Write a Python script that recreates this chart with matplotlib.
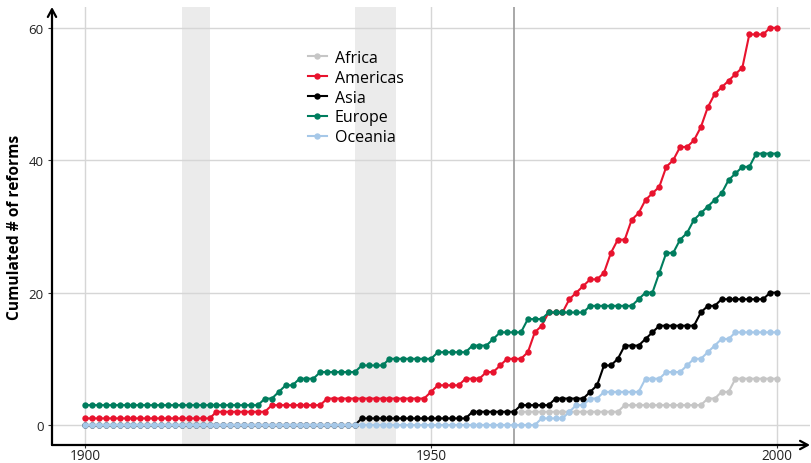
import numpy as np
import matplotlib.pyplot as plt
from matplotlib.lines import Line2D

plt.rcParams['font.family'] = ['Open Sans', 'DejaVu Sans']

# Cumulated number of reforms per year, by region
years = np.arange(1900, 2001)

africa_years = np.arange(1963, 2001)
africa = ([2] * 15 + [3] * 12 + [4, 4, 5, 5] + [7] * 7)

americas = ([1] * 10 +
            [1, 1, 1, 1, 1, 1, 1, 1, 1, 2] +
            [2, 2, 2, 2, 2, 2, 2, 3, 3, 3] +
            [3, 3, 3, 3, 3, 4, 4, 4, 4, 4] +
            [4] * 10 +
            [5, 6, 6, 6, 6, 7, 7, 7, 8, 8] +
            [9, 10, 10, 10, 11, 14, 15, 17, 17, 17] +
            [19, 20, 21, 22, 22, 23, 26, 28, 28, 31] +
            [32, 34, 35, 36, 39, 40, 42, 42, 43, 45] +
            [48, 50, 51, 52, 53, 54, 59, 59, 59, 60] +
            [60])

asia = ([0] * 40 +
        [1] * 10 +
        [1, 1, 1, 1, 1, 1, 2, 2, 2, 2] +
        [2, 2, 2, 3, 3, 3, 3, 3, 4, 4] +
        [4, 4, 4, 5, 6, 9, 9, 10, 12, 12] +
        [12, 13, 14, 15, 15, 15, 15, 15, 15, 17] +
        [18, 18, 19, 19, 19, 19, 19, 19, 19, 20] +
        [20])

europe = ([3] * 20 +
          [3, 3, 3, 3, 3, 3, 4, 4, 5, 6] +
          [6, 7, 7, 7, 8, 8, 8, 8, 8, 8] +
          [9, 9, 9, 9, 10, 10, 10, 10, 10, 10] +
          [10, 11, 11, 11, 11, 11, 12, 12, 12, 13] +
          [14, 14, 14, 14, 16, 16, 16, 17, 17, 17] +
          [17, 17, 17, 18, 18, 18, 18, 18, 18, 18] +
          [19, 20, 20, 23, 26, 26, 28, 29, 31, 32] +
          [33, 34, 35, 37, 38, 39, 39, 41, 41, 41] +
          [41])

oceania = ([0] * 60 +
           [0, 0, 0, 0, 0, 0, 1, 1, 1, 1] +
           [2, 3, 3, 4, 4, 5, 5, 5, 5, 5] +
           [5, 7, 7, 7, 8, 8, 8, 9, 10, 10] +
           [11, 12, 13, 13, 14, 14, 14, 14, 14, 14] +
           [14])

regions = ['Africa', 'Americas', 'Asia', 'Europe', 'Oceania']
colors = ['#c6c6c6', '#e8132e', '#000000', '#007d5e', '#a6c8e8']

world_wars = [(1914, 1918), (1939, 1945)]
marker_year = 1962

x_ticks = [1900, 1950, 2000]
y_ticks = [0, 20, 40, 60]

fig = plt.figure(figsize=(8.12, 4.64), dpi=100)
ax = fig.add_axes([52 / 812, 18 / 464, 758 / 812, 438 / 464])

for start, end in world_wars:
    ax.axvspan(start, end, color='#ebebeb', lw=0, zorder=0.5)
ax.axvline(marker_year, color='#9a9a9a', lw=1.2, zorder=0.8)

series = [(africa_years, africa), (years, americas), (years, asia),
          (years, europe), (years, oceania)]
for (xs, ys), name, col in zip(series, regions, colors):
    ax.plot(xs, ys, '-o', color=col, lw=1.5, ms=4.6, mew=0, label=name,
            zorder=2)

ax.set_xlim(1895.23, 2004.77)
ax.set_ylim(-3.02, 63.14)
ax.set_xticks(x_ticks)
ax.set_yticks(y_ticks)
ax.set_axisbelow(True)
ax.grid(color='#d6d6d6', lw=1.0, zorder=0)

for s in ax.spines.values():
    s.set_visible(False)

arrow = dict(arrowstyle='->,head_length=0.55,head_width=0.3', lw=1.6,
             color='black', shrinkA=0, shrinkB=0)
ax.annotate('', xy=(1, 0), xytext=(0, 0), xycoords='axes fraction',
            textcoords='axes fraction', arrowprops=arrow, annotation_clip=False)
ax.annotate('', xy=(0, 1), xytext=(0, 0), xycoords='axes fraction',
            textcoords='axes fraction', arrowprops=arrow, annotation_clip=False)

ax.tick_params(axis='both', width=0.8, color='#333333',
               labelsize=9.5, labelcolor='#222222')
ax.tick_params(axis='y', length=3, pad=3)
ax.tick_params(axis='x', length=2, pad=0.5, labelsize=9.8)
ax.set_ylabel('Cumulated # of reforms', fontsize=11.2, fontweight='bold',
              labelpad=4)

handles = [Line2D([], [], color=c, lw=1.5, marker='o', ms=4.6, mew=0)
           for c in colors]
ax.legend(handles, regions, loc='upper left', bbox_to_anchor=(0.338, 0.902),
          frameon=False, fontsize=11.5, handlelength=1.15, handletextpad=0.5,
          labelspacing=0.24, borderaxespad=0, borderpad=0)

fig.savefig('out.png', dpi=100)
